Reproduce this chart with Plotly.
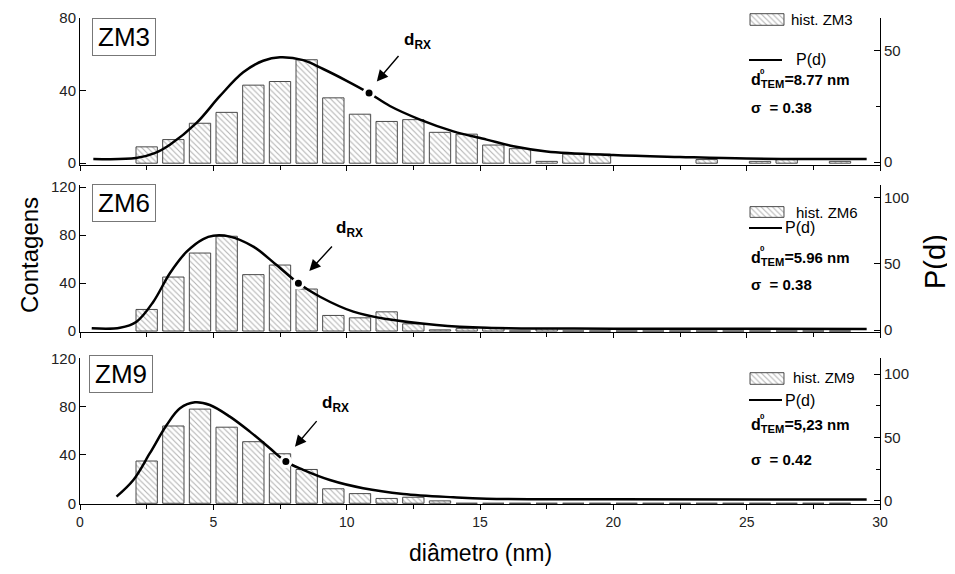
import plotly.graph_objects as go

# ---------------- data ----------------
bin_centers = [2.5, 3.5, 4.5, 5.5, 6.5, 7.5, 8.5, 9.5, 10.5, 11.5, 12.5, 13.5, 14.5,
               15.5, 16.5, 17.5, 18.5, 19.5, 20.5, 21.5, 22.5, 23.5, 24.5, 25.5, 26.5, 27.5, 28.5]
counts_zm3 = [9, 13, 22, 28, 43, 45, 57, 36, 27, 23, 24, 17, 16,
              10, 8, 1, 5, 5, None, None, None, 2, None, 1, 2, None, 1]
counts_zm6 = [18, 45, 65, 79, 47, 55, 35, 13, 11, 16, 6, 1, 2,
              3, 0, 2, 0, 0, 0, 0, 0, 0, 0, 0, 0, 0, 0]
counts_zm9 = [35, 64, 78, 63, 51, 41, 28, 12, 8, 4, 5, 2, 0,
              0, 0, 0, 0, 0, 0, 0, 0, 0, 0, 0, 0, 0, 0]

curve_x_zm3 = [0.5, 2.1, 2.8, 3.37, 4.37, 5.25, 6.12, 6.87, 7.5, 8.37, 9.12, 10.0, 10.84,
               11.62, 12.75, 14.0, 15.25, 16.25, 17.5, 20.0, 22.5, 25.0, 29.5]
curve_y_zm3 = [1.4, 1.8, 4.0, 7.8, 17.6, 29.7, 40.3, 45.5, 47.1, 45.8, 41.8, 36.5, 31.0,
               25.2, 19.1, 13.8, 10.1, 7.1, 4.8, 3.2, 2.3, 1.6, 1.4]
curve_x_zm6 = [0.44, 1.5, 2.12, 2.75, 3.37, 4.0, 4.62, 5.0, 5.62, 6.5, 7.37, 8.19, 9.0,
               10.25, 11.5, 13.37, 15.25, 20.0, 29.5]
curve_y_zm6 = [1.3, 1.7, 6.3, 21.4, 43.0, 59.3, 68.9, 71.4, 70.7, 63.1, 49.2, 35.4, 25.2,
               13.9, 8.3, 3.8, 1.7, 1.0, 0.8]
curve_x_zm9 = [1.37, 2.0, 2.62, 3.25, 3.75, 4.31, 4.87, 5.62, 6.37, 7.12, 7.72, 8.37, 9.37,
               10.62, 12.12, 14.0, 15.25, 20.0, 29.5]
curve_y_zm9 = [3.4, 16.5, 37.6, 59.8, 73.0, 77.7, 75.6, 66.4, 54.6, 41.5, 31.0, 24.5, 16.5,
               10.0, 5.5, 2.9, 1.8, 1.3, 1.2]

drx_x = [10.84, 8.19, 7.72]
drx_y = [31.0, 35.4, 31.0]

samples = ["ZM3", "ZM6", "ZM9"]
d_tem = ["8.77", "5.96", "5,23"]
sigmas = ["0.38", "0.38", "0.42"]

# ---------------- layout helpers (screen pixels -> paper) ----------------
BODY = 8  # default page margin around the plot div
W, H = 955 - BODY, 574 - BODY
ML, MR, MT, MB = 72, 75, 2, 70
PW, PH = W - ML - MR, H - MT - MB


def pxx(xp):
    return (xp - BODY - ML) / PW


def pxy(yp):
    return (H - MB - (yp - BODY)) / PH


FONT = "Liberation Sans, Arial, Helvetica, sans-serif"

# panel screen-pixel extents (top, bottom)
panels = [(18, 165), (185, 332), (358, 504)]
left_ranges = [[-1.0, 80], [-0.8, 121.7], [-0.6, 120.3]]
right_ranges = [[-1.3, 64.7], [-1.5, 109.8], [-2.4, 112.6]]
left_ticks = [[0, 40, 80], [0, 40, 80, 120], [0, 40, 80, 120]]
right_ticks = [[0, 50], [0, 50, 100], [0, 50, 100]]
right_minor = [25, None, 25]

counts = [counts_zm3, counts_zm6, counts_zm9]
curves = [(curve_x_zm3, curve_y_zm3), (curve_x_zm6, curve_y_zm6), (curve_x_zm9, curve_y_zm9)]

fig = go.Figure()
layout = dict(
    width=W, height=H,
    margin=dict(l=ML, r=MR, t=MT, b=MB, autoexpand=False),
    paper_bgcolor="white", plot_bgcolor="white",
    showlegend=False,
    font=dict(family=FONT, size=14, color="#111"),
    bargap=0.2,
)

pattern = dict(shape="\\", fgcolor="#666666", bgcolor="white", size=4, solidity=0.28)

for i in range(3):
    xa = "x" if i == 0 else f"x{i + 1}"
    yl = "y" if i == 0 else f"y{2 * i + 1}"
    yr = f"y{2 * i + 2}"
    top, bot = panels[i]
    dom = [pxy(bot), pxy(top)]

    fig.add_trace(go.Bar(
        x=bin_centers, y=counts[i], width=0.8,
        marker=dict(color="white", line=dict(color="#4a4a4a", width=1), pattern=pattern),
        xaxis=xa, yaxis=yl, name=f"hist. {samples[i]}",
    ))
    cx, cy = curves[i]
    fig.add_trace(go.Scatter(
        x=cx, y=cy, mode="lines", line=dict(color="black", width=2.5, shape="spline", smoothing=1.0),
        xaxis=xa, yaxis=yr, name="P(d)",
    ))
    fig.add_trace(go.Scatter(
        x=[drx_x[i]], y=[drx_y[i]], mode="markers",
        marker=dict(color="black", size=10, line=dict(color="white", width=3)),
        xaxis=xa, yaxis=yr, name="d_RX",
    ))

    xkey = "xaxis" if i == 0 else f"xaxis{i + 1}"
    ylkey = "yaxis" if i == 0 else f"yaxis{2 * i + 1}"
    yrkey = f"yaxis{2 * i + 2}"
    layout[xkey] = dict(
        domain=[0, 1], anchor=yl, range=[0, 30], showline=True, linecolor="black", linewidth=1,
        ticks="outside", ticklen=5, tickcolor="black", tick0=0, dtick=5,
        minor=dict(dtick=2.5, ticks="outside", ticklen=4, tickcolor="black"),
        showgrid=False, zeroline=False, showticklabels=(i == 2), automargin=False,
        tickfont=dict(size=14, color="#222"), matches=None if i == 0 else "x",
    )
    layout[ylkey] = dict(
        domain=dom, anchor=xa, range=left_ranges[i], showline=True, linecolor="black", linewidth=1,
        ticks="inside", ticklen=6, tickcolor="black", tickvals=left_ticks[i], automargin=False,
        showgrid=False, zeroline=False, tickfont=dict(size=15, color="#222"),
    )
    yr_dict = dict(
        overlaying=yl, side="right", anchor=xa, range=right_ranges[i], showline=True,
        linecolor="black", linewidth=1, ticks="inside", ticklen=6, tickcolor="black",
        tickvals=right_ticks[i], showgrid=False, zeroline=False, automargin=False,
        tickfont=dict(size=15, color="#222"),
    )
    if right_minor[i]:
        yr_dict["minor"] = dict(dtick=right_minor[i], ticks="inside", ticklen=4, tickcolor="black")
    layout[yrkey] = yr_dict

# legend hatch icons: tiny hidden axes holding a single patterned bar
icon_boxes = [(749, 785, 13, 26), (749, 785, 206, 218), (749, 785, 372, 385)]
for j, (x0, x1, y0, y1) in enumerate(icon_boxes):
    xn = 4 + j
    yn = 7 + j
    fig.add_trace(go.Bar(
        x=[0], y=[1], width=[1],
        marker=dict(color="white", line=dict(color="#4a4a4a", width=1), pattern=pattern),
        xaxis=f"x{xn}", yaxis=f"y{yn}", hoverinfo="skip",
    ))
    layout[f"xaxis{xn}"] = dict(domain=[pxx(x0), pxx(x1)], anchor=f"y{yn}", range=[-0.53, 0.53],
                                visible=False, fixedrange=True, automargin=False)
    layout[f"yaxis{yn}"] = dict(domain=[pxy(y1), pxy(y0)], anchor=f"x{xn}", range=[-0.06, 1.06],
                                visible=False, fixedrange=True, automargin=False)

fig.update_layout(**layout)

ann = []
shapes = []


def txt(text, xp, yp, size=14, xanchor="left", yanchor="middle", **kw):
    ann.append(dict(text=text, x=pxx(xp), y=pxy(yp), xref="paper", yref="paper",
                    xanchor=xanchor, yanchor=yanchor, showarrow=False,
                    font=dict(family=FONT, size=size, color="black"), **kw))


hist_text_y = [19.5, 212, 378]
hist_text_x = [789, 794, 791]
pd_line_y = [60, 228, 400]
pd_text_x = [794, 783, 783]
dtem_y = [81, 258, 425]
sig_y = [108, 284, 459]
label_boxes = [(91.7, 18.3), (91.7, 184), (89, 355)]

for i in range(3):
    txt(f"hist. {samples[i]}", hist_text_x[i], hist_text_y[i], size=15)
    shapes.append(dict(type="line", xref="paper", yref="paper",
                       x0=pxx(749), x1=pxx(782), y0=pxy(pd_line_y[i]), y1=pxy(pd_line_y[i]),
                       line=dict(color="black", width=1.8)))
    txt("P(d)", pd_text_x[i], pd_line_y[i], size=16)
    txt(f"<b>d<sub>TEM</sub>=<span style='font-size:15px'>{d_tem[i]} nm</span></b>", 749, dtem_y[i], size=16)
    txt("<b>0</b>", 758, dtem_y[i] - 9, size=8)
    txt(f"<b>σ  = {sigmas[i]}</b>", 749, sig_y[i], size=15)
    # sample label box
    bx, by = label_boxes[i]
    ann.append(dict(text=samples[i], x=pxx(bx), y=pxy(by), xref="paper", yref="paper",
                    xanchor="left", yanchor="top", showarrow=False, width=60, height=34,
                    bordercolor="#777", borderwidth=1, borderpad=1, bgcolor="white",
                    font=dict(family=FONT, size=26, color="black")))

# d_RX arrows and labels
arrow_heads = [(11.13, 45.0, "x", "y"), (8.6, 50.0, "x2", "y3"), (8.06, 46.9, "x3", "y5")]
arrow_tails = [(23, -27), (24, -26), (23, -27)]
drx_text_pos = [(402, 54), (334, 242), (320, 417)]
for i in range(3):
    hx, hy, xr, yr = arrow_heads[i]
    ax, ay = arrow_tails[i]
    ann.append(dict(x=hx, y=hy, xref=xr, yref=yr, ax=ax, ay=ay, axref="pixel", ayref="pixel",
                    text="", showarrow=True, arrowhead=2, arrowsize=1.6, arrowwidth=1.4,
                    arrowcolor="black", standoff=0))
    tx, ty = drx_text_pos[i]
    txt("<b>d<sub>RX</sub></b>", tx, ty, size=17, yanchor="bottom")

# axis titles
txt("Contagens", 30, 255, size=24, xanchor="center", textangle=-90)
txt("P(d)", 935, 262, size=29, xanchor="center", textangle=-90)
txt("diâmetro (nm)", 480, 553, size=23, xanchor="center")

fig.update_layout(annotations=ann, shapes=shapes)
fig.write_html("out.html")
